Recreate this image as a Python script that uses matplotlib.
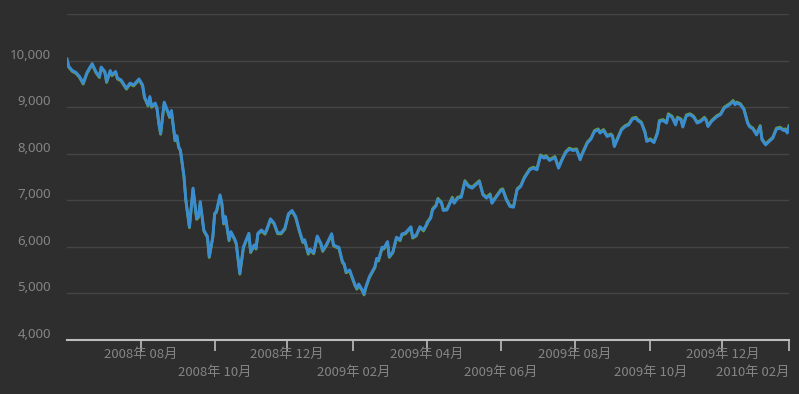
import matplotlib
matplotlib.use("Agg")
import matplotlib.pyplot as plt
import matplotlib.transforms as mtrans

plt.rcParams['font.family'] = ['Noto Sans CJK JP', 'DejaVu Sans']

# trading session index -> value
sessions = [0, 1, 3, 5, 7, 9, 11, 12, 14, 16, 18, 19, 21, 22, 24, 25, 27, 28, 30, 33,
            35, 37, 40, 42, 43, 45, 46, 47, 49, 50, 51, 52, 54, 56, 57, 58, 60, 61, 62, 63,
            65, 66, 68, 70, 72, 73, 74, 76, 78, 79, 81, 82, 83, 85, 86, 87, 88, 90, 91, 93,
            94, 96, 98, 101, 102, 104, 105, 106, 108, 110, 111, 113, 115, 117, 119, 121, 123, 125, 127, 129,
            131, 132, 134, 135, 137, 139, 141, 142, 144, 147, 148, 150, 151, 153, 154, 155, 157, 158, 160, 161,
            162, 164, 165, 166, 168, 171, 172, 173, 175, 176, 178, 179, 181, 183, 185, 186, 188, 191, 192, 194,
            196, 198, 200, 202, 203, 205, 206, 208, 209, 211, 214, 215, 217, 219, 221, 223, 225, 227, 229, 231,
            233, 235, 236, 238, 241, 242, 244, 246, 248, 250, 252, 254, 257, 259, 261, 263, 265, 266, 268, 271,
            273, 275, 277, 279, 281, 283, 285, 286, 289, 291, 293, 295, 296, 298, 300, 302, 303, 304, 306, 308,
            310, 312, 314, 316, 317, 319, 321, 322, 324, 326, 328, 329, 331, 333, 334, 336, 338, 339, 341, 342,
            344, 346, 348, 350, 352, 354, 355, 356, 358, 361, 363, 365, 366, 368, 370, 371, 372, 374, 376, 378,
            379, 381, 383, 385, 386, 388, 390, 392, 394, 396, 398, 399, 400, 401]
values = [10040, 9880, 9790, 9750, 9660, 9520, 9740, 9810, 9940, 9770, 9660, 9865, 9770, 9555, 9790, 9700, 9770, 9630, 9590, 9410,
          9520, 9480, 9610, 9480, 9230, 9050, 9230, 9020, 9090, 8980, 8660, 8440, 9110, 8910, 8800, 8930, 8300, 8390, 8155, 8080,
          7510, 7010, 6430, 7260, 6610, 6650, 6970, 6360, 6220, 5790, 6220, 6720, 6760, 7115, 6940, 6510, 6650, 6150, 6325, 6180,
          6075, 5430, 6000, 6290, 5895, 6040, 5970, 6290, 6360, 6290, 6380, 6600, 6510, 6300, 6300, 6400, 6710, 6780, 6650, 6360,
          6110, 6150, 5860, 5950, 5870, 6230, 6075, 5920, 6040, 6280, 6040, 6000, 5990, 5680, 5630, 5460, 5500, 5390, 5180, 5105,
          5200, 5070, 4985, 5140, 5360, 5570, 5750, 5715, 5990, 5970, 6110, 5790, 5895, 6205, 6150, 6275, 6300, 6430, 6205, 6255,
          6430, 6360, 6505, 6615, 6790, 6880, 7020, 6935, 6780, 6790, 7045, 6935, 7045, 7065, 7400, 7295, 7260, 7330, 7400, 7115,
          7045, 7115, 6935, 7045, 7210, 7225, 7010, 6865, 6850, 7225, 7295, 7475, 7655, 7690, 7655, 7955, 7905, 7940, 7855, 7920,
          7690, 7870, 8025, 8100, 8070, 8085, 7870, 7975, 8230, 8315, 8480, 8515, 8445, 8500, 8370, 8405, 8370, 8155, 8335, 8515,
          8585, 8620, 8745, 8765, 8715, 8660, 8455, 8265, 8300, 8240, 8445, 8695, 8715, 8660, 8840, 8790, 8620, 8765, 8730, 8575,
          8815, 8840, 8790, 8660, 8695, 8765, 8715, 8585, 8695, 8800, 8840, 8980, 9005, 9055, 9125, 9055, 9090, 9055, 8945, 8660,
          8585, 8530, 8405, 8585, 8300, 8190, 8265, 8335, 8530, 8550, 8500, 8515, 8445, 8585]

tick_sessions = [41, 82, 122, 159, 200, 241, 282, 324, 364, 401]
tick_labels = ['2008年 08月', '2008年 10月', '2008年 12月', '2009年 02月', '2009年 04月',
               '2009年 06月', '2009年 08月', '2009年 10月', '2009年 12月', '2010年 02月']
y_ticks = [4000, 5000, 6000, 7000, 8000, 9000, 10000, 11000]

bg = '#2e2e2e'
txt = '#858585'

fig = plt.figure(figsize=(7.99, 3.94), dpi=100, facecolor=bg)
ax = fig.add_axes([67 / 799, 54.3 / 394, 722 / 799, 325.4 / 394])
ax.set_facecolor(bg)

# green series sits just under the blue one
up = mtrans.offset_copy(ax.transData, fig=fig, x=0, y=1.0, units='dots')
dn = mtrans.offset_copy(ax.transData, fig=fig, x=0, y=-1.0, units='dots')
half = len([s for s in sessions if s < 200])
ax.plot(sessions[:half + 1], values[:half + 1], color='#6f9e3a', lw=2.0, transform=dn)
ax.plot(sessions[half:], values[half:], color='#6f9e3a', lw=2.0, transform=up)
ax.plot(sessions, values, color='#3a8dd0', lw=2.1, solid_joinstyle='round')

ax.set_xlim(0, 401)
ax.set_ylim(4000, 11000)

for v in y_ticks[1:]:
    ax.axhline(v, color='#454545', lw=1, zorder=0)

for s in ['top', 'right', 'left']:
    ax.spines[s].set_visible(False)
ax.spines['bottom'].set_color('#bdbdbd')
ax.spines['bottom'].set_linewidth(1.5)

ax.set_yticks([])
ax.set_xticks(tick_sessions)
ax.set_xticklabels([])
ax.tick_params(axis='x', length=8, width=1.2, color='#bdbdbd', direction='out')

ylab_tr = mtrans.blended_transform_factory(ax.transAxes, ax.transData)
ylab_tr = ylab_tr + mtrans.ScaledTranslation(-16 / 100, 2 / 100, fig.dpi_scale_trans)
for v in y_ticks[:-1]:
    ax.text(0, v, f'{v:,}', transform=ylab_tr, ha='right', va='baseline',
            color=txt, fontsize=9.5, family=['Noto Sans', 'DejaVu Sans'])

xlab_tr = mtrans.blended_transform_factory(ax.transData, ax.transAxes)
for i, (s, lab) in enumerate(zip(tick_sessions, tick_labels)):
    dy = -15 if i % 2 == 0 else -33
    ha = 'center'
    if i == len(tick_labels) - 1:
        ha = 'right'
    tr = xlab_tr + mtrans.ScaledTranslation(0, dy / 100, fig.dpi_scale_trans)
    ax.text(s, 0, lab, transform=tr, ha=ha, va='center', color=txt, fontsize=9.5)

fig.savefig('out.png', dpi=100, facecolor=bg)
